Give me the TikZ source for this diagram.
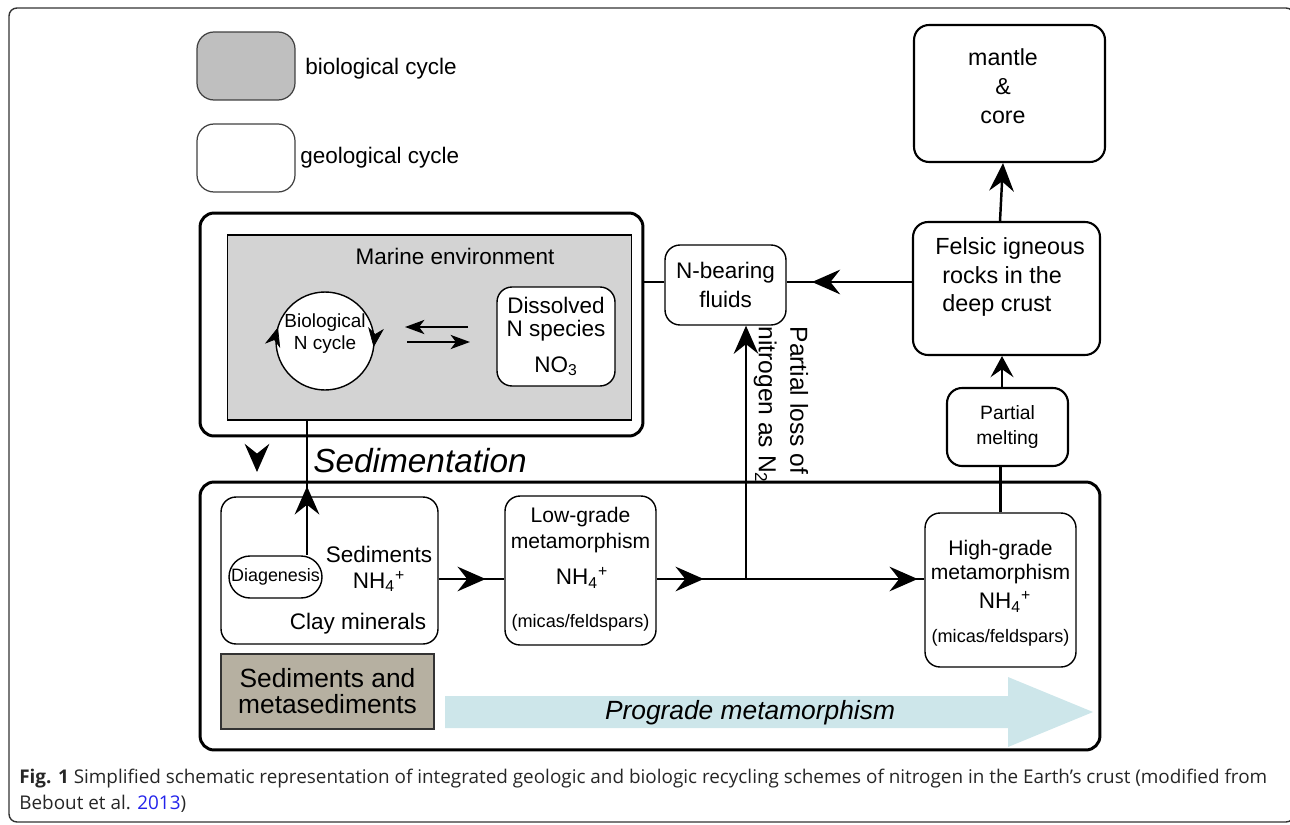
\documentclass[tikz,border=0pt]{standalone}
\usepackage{fontspec}
\setmainfont{Liberation Sans}
\newfontfamily\captionfont{Open Sans}
\usetikzlibrary{calc,arrows.meta,decorations.markings}
\definecolor{biogrey}{RGB}{191,191,191}
\definecolor{seagrey}{RGB}{211,211,211}
\definecolor{sedtan}{RGB}{182,176,161}
\definecolor{progblue}{RGB}{205,230,234}
\definecolor{refblue}{RGB}{35,35,235}
\newcommand{\ammon}{NH\textsubscript{4}\textsuperscript{+}}
\tikzset{
	bigtip/.tip={Stealth[length=16pt,width=14pt,inset=5.5pt]},
	medtip/.tip={Stealth[length=12pt,width=13pt,inset=4.5pt]},
	smalltip/.tip={Stealth[length=11pt,width=8pt,inset=3pt]},
	cyctip/.tip={Stealth[length=11pt,width=9pt,inset=3.5pt]}
}

\begin{document}
\begin{tikzpicture}[x=0.02cm,y=-0.02cm,
	every node/.style={font=\fontsize{12.8}{15}\selectfont},
	geobox/.style={draw,line width=0.8pt,rounded corners=0.3cm,fill=white,align=center},
	legbox/.style={draw=black!75,line width=0.7pt,rounded corners=0.34cm,minimum width=1.96cm,minimum height=1.36cm},
	bigbox/.style={draw,line width=1.7pt,rounded corners=0.28cm},
	link/.style={line width=1.4pt},
	midtip/.style={postaction={decorate,decoration={markings,mark=at position #1 with {\arrow{bigtip}}}}},
	smallfont/.style={font=\fontsize{10.3}{12}\selectfont}
	]
	\useasboundingbox (0,0) rectangle (1290,824);
	\draw[black!80,line width=0.8pt,rounded corners=0.16cm] (9,8) rectangle (1294,822);
	%LEGEND
	\node[legbox,fill=biogrey] (legbio) at (246,66) {};
	\node[anchor=west,inner sep=0pt] (legbiotxt) at (305,69) {biological cycle};
	\node[legbox,fill=white] (leggeo) at (246,158) {};
	\node[anchor=west,inner sep=0pt] (leggeotxt) at (300,158) {geological cycle};
	%MARINE
	\node[bigbox,minimum width=8.86cm,minimum height=4.46cm] (marine) at (421.5,324.5) {};
	\node[draw,fill=seagrey,line width=0.6pt,minimum width=8.1cm,minimum height=3.7cm] (sea) at (429.5,327.5) {};
	\node (seatxt) at (455,256) {Marine environment};
	\node[draw,circle,fill=white,line width=0.8pt,minimum size=1.96cm] (cycle) at (325,341) {};
	\node[align=center,inner sep=0pt,font=\fontsize{10.8}{12.6}\selectfont] (cycletxt) at (325,334) {Biological\\N cycle};
	\path[postaction={decorate,decoration={markings,
		mark=at position 0.02 with {\arrow{cyctip}},
		mark=at position 0.545 with {\arrow{cyctip}}}}] (cycle.center) circle[radius=49];
	\coordinate (swapA) at (468,327);
	\coordinate (swapB) at (405,327);
	\coordinate (swapC) at (407,342);
	\coordinate (swapD) at (470,342);
	\draw[line width=1.3pt,-smalltip] (swapA) -- (swapB);
	\draw[line width=1.3pt,-smalltip] (swapC) -- (swapD);
	\node[geobox,minimum width=2.36cm,minimum height=1.98cm,font=\fontsize{12.8}{13.3}\selectfont] (diss) at (556,336.5) {Dissolved\\N species\\[7pt]NO\textsubscript{3}};
	%DEEP CRUST
	\node[geobox,minimum width=2.42cm,minimum height=1.6cm,font=\fontsize{12.8}{16}\selectfont] (fluids) at (725.5,285) {N-bearing\\fluids};
	\node[geobox,line width=1.2pt,minimum width=3.74cm,minimum height=2.66cm] (felsic) at (1006.5,288.5) {};
	\node[anchor=west,align=left,inner sep=0pt,font=\fontsize{13.3}{16.2}\selectfont] (felsictxt) at (935,277) {Felsic igneous\\\hspace*{4pt}rocks in the\\\hspace*{4pt}deep crust};
	\node[geobox,line width=1.2pt,minimum width=3.82cm,minimum height=2.74cm] (mantle) at (1009.5,93.5) {};
	\node[align=center,inner sep=0pt,font=\fontsize{13.2}{16.5}\selectfont] (mantletxt) at (1003,86) {mantle\\\&\\core};
	\node[geobox,line width=1.2pt,minimum width=2.42cm,minimum height=1.56cm,font=\fontsize{11}{13.7}\selectfont] (melting) at (1007.5,427) {Partial\\melting};
	%SEDIMENTS AND METAMORPHISM
	\node[bigbox,minimum width=18cm,minimum height=5.36cm] (crust) at (650,616) {};
	\node[geobox,minimum width=4.34cm,minimum height=2.94cm] (sed) at (329.5,570.5) {};
	\node[geobox,rounded corners=0.42cm,minimum width=1.86cm,minimum height=0.84cm,inner sep=0pt,font=\fontsize{10.2}{12}\selectfont] (diag) at (275.5,577) {Diagenesis};
	\node[align=center,font=\fontsize{12.8}{14.5}\selectfont] (sedtxt) at (379,569) {Sediments\\\ammon};
	\node (claytxt) at (358,624) {Clay minerals};
	\node[geobox,minimum width=3.02cm,minimum height=2.98cm] (low) at (580.5,570.5) {};
	\node[align=center,font=\fontsize{12}{14.8}\selectfont] (lowtxt) at (580.5,530) {Low-grade\\metamorphism};
	\node (lownh) at (582,578) {\ammon};
	\node[smallfont] (lowmin) at (580.5,623) {(micas/feldspars)};
	\node[geobox,minimum width=3.02cm,minimum height=3.08cm] (high) at (1000.5,590) {};
	\node[align=center,font=\fontsize{12}{13.8}\selectfont] (hightxt) at (1000.5,562) {High-grade\\metamorphism};
	\node (highnh) at (1005,602) {\ammon};
	\node[smallfont] (highmin) at (1000.5,638) {(micas/feldspars)};
	\node[draw=black!80,line width=0.8pt,fill=sedtan,minimum width=4.26cm,minimum height=1.5cm,align=center,font=\fontsize{15}{14.8}\selectfont] (sedmeta) at (327.5,691.5) {Sediments and\\metasediments};
	%PROGRADE ARROW
	\fill[progblue] (445,696) -- (1008,696) -- (1008,677) -- (1093,712) -- (1008,747) -- (1008,728) -- (445,728) -- cycle;
	\node[font=\fontsize{15}{18}\selectfont\itshape] (progtxt) at (750,713) {Prograde metamorphism};
	\node[font=\fontsize{19}{22}\selectfont\itshape] (sedimtxt) at (420,461) {Sedimentation};
	%LINKS
	\coordinate (flow) at (0,282);
	\coordinate (meta) at (0,579);
	\coordinate (junc) at (746,579);
	\coordinate (riser) at (307,0);
	\coordinate (upA) at (1000,0);
	\coordinate (upB) at (1003,0);
	\coordinate (meltx) at (1002,0);
	\coordinate (droptip) at (257,472);
	\draw[link] (fluids.west |- flow) -- (marine.east |- flow);
	\draw[link,midtip=2cm] (felsic.west |- flow) -- (fluids.east |- flow);
	\draw[link,-bigtip] (felsic.north -| upA) -- (mantle.south -| upB);
	\draw[link,-medtip] (melting.north -| meltx) -- (felsic.south -| meltx);
	\draw[link] (high.north) -- (high.north |- melting.south);
	\draw[link,midtip=1.38cm] (diag.north -| riser) -- (sea.south -| riser);
	\draw[link,-bigtip] ($(droptip)+(0,-2)$) -- (droptip);
	\draw[link,midtip=0.94cm] (sed.east |- meta) -- (low.west |- meta);
	\draw[link,midtip=0.94cm,midtip=5.22cm] (low.east |- meta) -- (high.west |- meta);
	\draw[link,-bigtip] (junc) -- (junc |- fluids.south);
	\node[rotate=-90,align=left,font=\fontsize{14}{18}\selectfont] (losstxt) at (781,405) {Partial loss of\\nitrogen as N\textsubscript{2}};
	%CAPTION
	\node[anchor=base west,inner sep=0pt,font=\captionfont\fontsize{10.75}{13}\selectfont,text=black!85] (cap1) at (19,783) {\textbf{Fig. 1} Simplified schematic representation of integrated geologic and biologic recycling schemes of nitrogen in the Earth’s crust (modified from};
	\node[anchor=base west,inner sep=0pt,font=\captionfont\fontsize{10.75}{13}\selectfont,text=black!85] (cap2) at (19,809) {Bebout et al. \textcolor{refblue}{2013})};
\end{tikzpicture}
\end{document}
